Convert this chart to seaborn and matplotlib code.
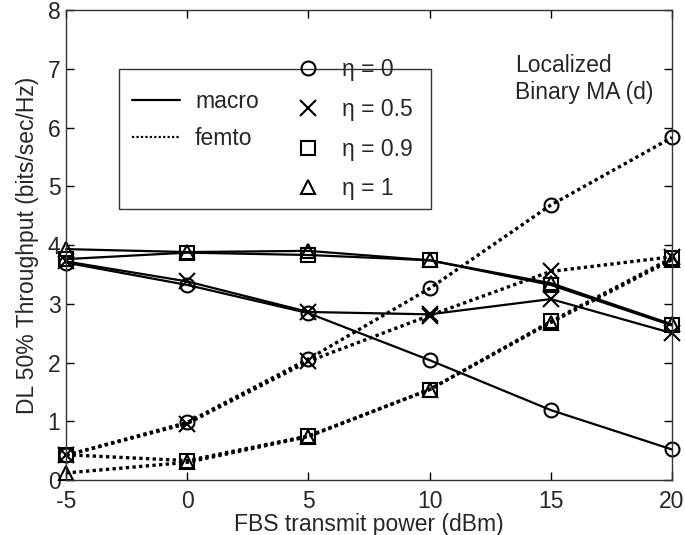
import numpy as np
import pandas as pd
import seaborn as sns
import matplotlib
matplotlib.use("Agg")
import matplotlib.pyplot as plt
from matplotlib.lines import Line2D
from matplotlib.patches import Rectangle

# ---- data ----
power = [-5, 0, 5, 10, 15, 20]
eta_labels = ["η = 0", "η = 0.5", "η = 0.9", "η = 1"]
macro_eta0 = [3.70, 3.32, 2.84, 2.04, 1.19, 0.52]
macro_eta05 = [3.72, 3.38, 2.86, 2.82, 3.08, 2.50]
macro_eta09 = [3.76, 3.87, 3.83, 3.74, 3.32, 2.63]
macro_eta1 = [3.93, 3.88, 3.90, 3.74, 3.35, 2.65]
femto_eta0 = [0.42, 0.98, 2.06, 3.26, 4.68, 5.83]
femto_eta05 = [0.42, 0.96, 2.02, 2.80, 3.55, 3.80]
femto_eta09 = [0.43, 0.33, 0.75, 1.54, 2.70, 3.78]
femto_eta1 = [0.12, 0.30, 0.74, 1.54, 2.68, 3.75]
xticks = [-5, 0, 5, 10, 15, 20]
yticks = [0, 1, 2, 3, 4, 5, 6, 7, 8]

sns.set_style("ticks")
plt.rcParams["font.family"] = ["Liberation Sans", "DejaVu Sans"]
FS = 16.5

fig = plt.figure(figsize=(6.85, 5.35), dpi=100)
ax = fig.add_axes([0.0964, 0.1028, 0.8846, 0.8785])

markers = ["o", "x", "s", "^"]
macro = [macro_eta0, macro_eta05, macro_eta09, macro_eta1]
femto = [femto_eta0, femto_eta05, femto_eta09, femto_eta1]

for vals, m in zip(macro, markers):
    df = pd.DataFrame({"p": power, "t": vals})
    sns.lineplot(data=df, x="p", y="t", ax=ax, color="black", linestyle="-",
                 linewidth=1.6, marker=m, markersize=10 if m != "x" else 11,
                 markeredgecolor="black", markeredgewidth=1.5, clip_on=False)
for vals, m in zip(femto, markers):
    df = pd.DataFrame({"p": power, "t": vals})
    sns.lineplot(data=df, x="p", y="t", ax=ax, color="black", linestyle=(0, (1, 1)),
                 linewidth=2.4, marker=m, markersize=10 if m != "x" else 11,
                 markeredgecolor="black", markeredgewidth=1.5, clip_on=False)
for ln in ax.get_lines():
    ln.set_markerfacecolor("none")

ax.set_xlim(-5, 20)
ax.set_ylim(0, 8)
ax.set_xticks(xticks)
ax.set_yticks(yticks)
ax.set_xticklabels([str(v) for v in xticks])
ax.set_yticklabels([str(v) for v in yticks])
ax.tick_params(direction="in", length=6, width=1, labelsize=FS, top=True, right=True,
               color="black")
ax.tick_params(axis="x", pad=7)
ax.tick_params(axis="y", pad=4)
for s in ax.spines.values():
    s.set_visible(True)
    s.set_color("#333333")
    s.set_linewidth(1.0)
ax.set_xlabel("FBS transmit power (dBm)", fontsize=FS, labelpad=0)
ax.set_ylabel("DL 50% Throughput (bits/sec/Hz)", fontsize=FS, labelpad=6)

# legend frame
ax.add_patch(Rectangle((0.0875, 0.577), 0.5145, 0.297, transform=ax.transAxes,
                       facecolor="white", edgecolor="#333333", linewidth=1.0, zorder=5))

line_handles = [Line2D([], [], color="black", linestyle="-", linewidth=1.6),
                Line2D([], [], color="black", linestyle=(0, (1, 1)), linewidth=1.6)]
leg1 = ax.legend(line_handles, ["macro", "femto"], loc="center left",
                 bbox_to_anchor=(0.109, 0.766), frameon=False, fontsize=FS,
                 handlelength=2.1, handletextpad=0.65, labelspacing=0.65,
                 borderpad=0, borderaxespad=0)
leg1.set_zorder(6)
ax.add_artist(leg1)

marker_handles = [Line2D([], [], color="black", linestyle="none", marker=m,
                         markersize=10 if m != "x" else 11, markerfacecolor="none",
                         markeredgewidth=1.5) for m in markers]
leg2 = ax.legend(marker_handles, eta_labels, loc="center left",
                 bbox_to_anchor=(0.380, 0.746), frameon=False, fontsize=FS,
                 handlelength=1.0, handletextpad=0.98, labelspacing=0.73,
                 borderpad=0, borderaxespad=0)
leg2.set_zorder(6)

ax.text(0.741, 0.906, "Localized\nBinary MA (d)", transform=ax.transAxes,
        fontsize=FS, va="top", ha="left", linespacing=1.2)

fig.savefig("out.png", dpi=100, facecolor="white")
